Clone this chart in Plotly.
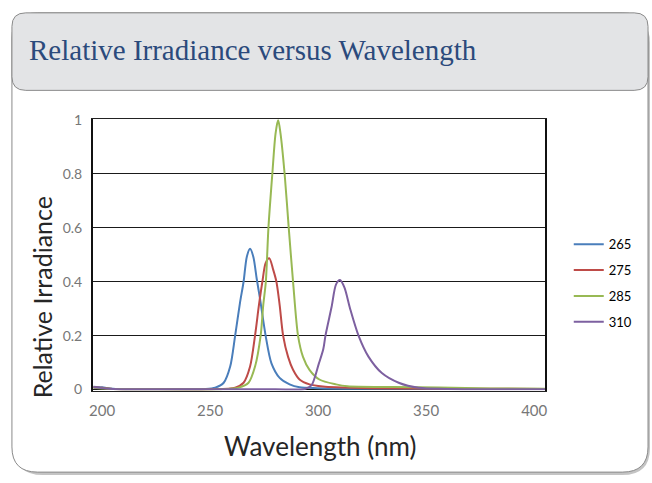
import plotly.graph_objects as go

# ---------------- data ----------------
series_names = ["265", "275", "285", "310"]

wl_265 = [196, 200, 205, 215, 235, 248, 252.4, 256.3, 259.3, 261.6, 263.9, 265.5, 267.0, 268.5,
          270.0, 271.6, 273.1, 275.7, 278.4, 282.2, 286.8, 291.4, 299.9, 320, 360, 405]
ir_265 = [0.010, 0.008, 0.003, 0.001, 0.001, 0.002, 0.007, 0.025, 0.085, 0.20, 0.325, 0.40, 0.493, 0.522,
          0.493, 0.41, 0.337, 0.20, 0.097, 0.043, 0.019, 0.008, 0.005, 0.003, 0.002, 0.002]

wl_275 = [196, 200, 205, 220, 250, 261.6, 265.5, 268.5, 270.8, 272.6, 274.2, 275.7, 277.4, 279.2,
          280.7, 282.2, 283.8, 286.1, 288.4, 291.4, 296.0, 302.2, 308.3, 325, 360, 405]
ir_275 = [0.008, 0.006, 0.002, 0.001, 0.001, 0.007, 0.025, 0.085, 0.20, 0.313, 0.40, 0.469, 0.487, 0.445,
          0.40, 0.313, 0.20, 0.121, 0.073, 0.037, 0.019, 0.011, 0.008, 0.005, 0.003, 0.002]

wl_285 = [196, 200, 205, 220, 255, 263.2, 267.8, 270.8, 273.4, 274.6, 275.8, 277.0, 278.8, 280.3, 281.5,
          282.6, 284.5, 286.4, 288.4, 290.7, 293.0, 296.0, 300.6, 308.3, 313.6, 335, 356, 380, 405]
ir_285 = [0.006, 0.004, 0.002, 0.001, 0.001, 0.007, 0.025, 0.085, 0.20, 0.313, 0.40, 0.60, 0.80, 0.95, 1.0,
          0.95, 0.80, 0.60, 0.40, 0.20, 0.121, 0.073, 0.037, 0.019, 0.012, 0.009, 0.007, 0.004, 0.003]

wl_310 = [196, 200, 205, 230, 280, 293.8, 296.9, 300.3, 302.4, 303.4, 306.2, 308.3, 310.1, 312.2,
          314.8, 318.7, 323.3, 329.5, 337.3, 346.6, 360, 405]
ir_310 = [0.008, 0.005, 0.002, 0.001, 0.001, 0.002, 0.015, 0.095, 0.15, 0.20, 0.305, 0.39, 0.406, 0.378,
          0.30, 0.20, 0.122, 0.061, 0.025, 0.006, 0.002, 0.001]

x_ticks = [200, 250, 300, 350, 400]
y_ticks = [0, 0.2, 0.4, 0.6, 0.8, 1]
y_ticktext = ["0", "0.2", "0.4", "0.6", "0.8", "1"]

colors = ["#4a7ebb", "#be4b48", "#98b954", "#7d60a0"]

# ---------------- figure ----------------
W, H = 652, 483


def px(x):
    return x / W


def py(y):
    return 1 - y / H


def rrect(x0, y0, x1, y1, r):
    """rounded rectangle path in paper coords from pixel coords"""
    pts = []
    pts.append(f"M{px(x0 + r)},{py(y0)}")
    pts.append(f"L{px(x1 - r)},{py(y0)}")
    pts.append(f"Q{px(x1)},{py(y0)} {px(x1)},{py(y0 + r)}")
    pts.append(f"L{px(x1)},{py(y1 - r)}")
    pts.append(f"Q{px(x1)},{py(y1)} {px(x1 - r)},{py(y1)}")
    pts.append(f"L{px(x0 + r)},{py(y1)}")
    pts.append(f"Q{px(x0)},{py(y1)} {px(x0)},{py(y1 - r)}")
    pts.append(f"L{px(x0)},{py(y0 + r)}")
    pts.append(f"Q{px(x0)},{py(y0)} {px(x0 + r)},{py(y0)}")
    return " ".join(pts) + " Z"


fig = go.Figure()
xs = [wl_265, wl_275, wl_285, wl_310]
ys = [ir_265, ir_275, ir_285, ir_310]
for name, x, y, c in zip(series_names, xs, ys, colors):
    fig.add_trace(go.Scatter(x=x, y=y, name=name, mode="lines",
                             line=dict(color=c, width=2, shape="spline", smoothing=0.8),
                             legendgroup=name, hoverinfo="skip"))

shapes = [
    # shadow
    dict(type="path", xref="paper", yref="paper", layer="below",
         path=rrect(11, 8, 652, 482, 28), fillcolor="#c4c4c4", line=dict(width=0)),
    # body
    dict(type="path", xref="paper", yref="paper", layer="below",
         path=rrect(8, 5, 650, 479, 26), fillcolor="white", line=dict(color="#8a8a8a", width=1)),
    # header
    dict(type="path", xref="paper", yref="paper", layer="below",
         path=rrect(8, 5, 650, 85, 14), fillcolor="#e3e4e6", line=dict(color="#8a8a8a", width=1)),
]

annotations = [
    dict(text="Relative Irradiance versus Wavelength", x=px(23), y=py(43), xref="paper", yref="paper",
         xanchor="left", yanchor="middle", showarrow=False,
         font=dict(family="Liberation Serif", size=29, color="#2b4a7c")),
    dict(text="Relative Irradiance", x=px(38), y=py(299), xref="paper", yref="paper",
         xanchor="center", yanchor="middle", showarrow=False, textangle=-90,
         font=dict(family="Lato", size=25, color="#262626")),
    dict(text="Wavelength (nm)", x=px(319), y=py(452), xref="paper", yref="paper",
         xanchor="center", yanchor="middle", showarrow=False,
         font=dict(family="Lato", size=26, color="#262626")),
]

y_lo, y_hi = -0.004, 1.003
unit = 278.0
top_px = 115.7 - (y_hi - 1) * unit
bot_px = 393.7 - y_lo * unit

fig.update_layout(
    width=W, height=H,
    margin=dict(l=0, r=0, t=0, b=0),
    paper_bgcolor="white", plot_bgcolor="white",
    shapes=shapes, annotations=annotations,
    showlegend=True,
    legend=dict(x=px(570), y=py(284), xanchor="left", yanchor="middle",
                font=dict(family="Lato", size=13, color="#000000"),
                tracegroupgap=6, bgcolor="rgba(0,0,0,0)", itemwidth=30),
    xaxis=dict(domain=[px(89.6), px(546)], range=[195.7, 405.0],
               tickvals=x_ticks, ticktext=[str(v) for v in x_ticks],
               showgrid=False, zeroline=False,
               showline=True, linecolor="#222222", linewidth=1.2, mirror=True,
               ticks="outside", ticklen=6, tickcolor="rgba(0,0,0,0)",
               tickfont=dict(family="Lato", size=15, color="#777777")),
    yaxis=dict(domain=[py(bot_px), py(top_px)], range=[y_lo, y_hi],
               tickvals=y_ticks, ticktext=y_ticktext,
               showgrid=True, gridcolor="#1a1a1a", gridwidth=1.4, zeroline=False,
               showline=True, linecolor="#111111", linewidth=1.5, mirror=True,
               ticks="outside", ticklen=6, tickcolor="rgba(0,0,0,0)",
               tickfont=dict(family="Lato", size=14, color="#777777")),
)

fig.write_html("out.html", config={"displayModeBar": False},
               post_script="document.body.style.margin='0';document.body.style.overflow='hidden';")
